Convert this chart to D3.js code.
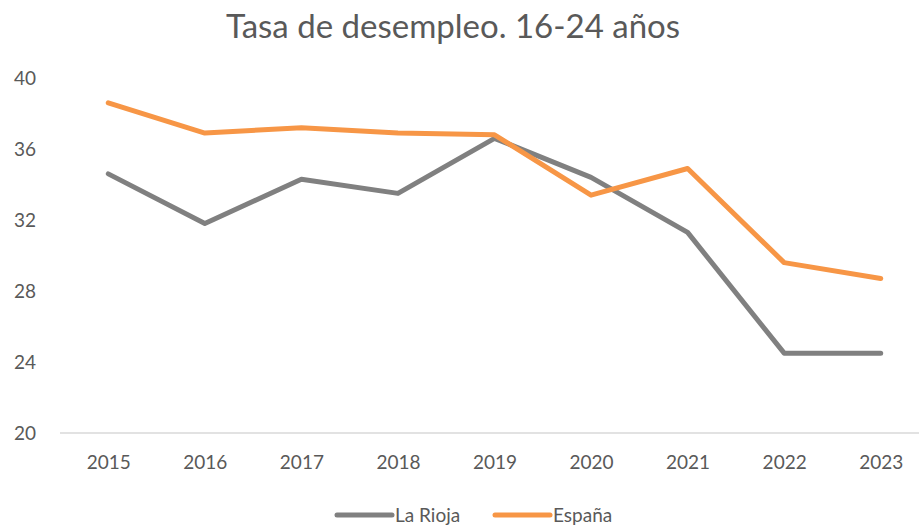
<!DOCTYPE html>
<html>
<head>
<meta charset="utf-8">
<script src="https://cdnjs.cloudflare.com/ajax/libs/d3/7.8.5/d3.min.js"></script>
<style>
  body { margin: 0; background: #fff; }
  text { font-family: Lato, "Open Sans", sans-serif; fill: #595959; }
</style>
</head>
<body>
<svg id="chart" width="919" height="530"></svg>
<script>
// chart data
const years = ["2015", "2016", "2017", "2018", "2019", "2020", "2021", "2022", "2023"];
const laRioja = [34.6, 31.8, 34.3, 33.5, 36.6, 34.4, 31.3, 24.5, 24.5];
const espana = [38.6, 36.9, 37.2, 36.9, 36.8, 33.4, 34.9, 29.6, 28.7];
const yTicks = [20, 24, 28, 32, 36, 40];
const seriesNames = ["La Rioja", "España"];

const colors = ["#808080", "#F79646"];

const svg = d3.select("#chart");

// plot area
const plotLeft = 60, plotRight = 929, plotTop = 78, plotBottom = 433;

let x = d3.scalePoint().domain(years).range([plotLeft, plotRight]).padding(0.5);
let y = d3.scaleLinear().domain([20, 40]).range([plotBottom, plotTop]);

// title
svg.append("text")
  .attr("x", 453)
  .attr("y", 38)
  .attr("text-anchor", "middle")
  .style("font-size", "33px")
  .text("Tasa de desempleo. 16-24 años");

// y axis labels (no line, no gridlines)
let yAxis = d3.axisLeft(y).tickValues(yTicks).tickSize(0).tickPadding(0);
let yG = svg.append("g")
  .attr("transform", "translate(14,0)")
  .call(yAxis);
yG.select(".domain").remove();
yG.selectAll("text")
  .attr("text-anchor", "start")
  .attr("x", 0)
  .style("font-size", "19px")
  .style("fill", "#595959")
  .style("font-family", "Lato, 'Open Sans', sans-serif");

// x axis
let xAxis = d3.axisBottom(x).tickSize(0).tickPadding(23);
let xG = svg.append("g")
  .attr("transform", "translate(0," + plotBottom + ")")
  .call(xAxis);
xG.select(".domain")
  .attr("d", "M" + plotLeft + ",0H919")
  .attr("stroke", "#d9d9d9")
  .attr("stroke-width", 1.5);
xG.selectAll("text")
  .style("font-size", "19px")
  .style("fill", "#595959")
  .style("font-family", "Lato, 'Open Sans', sans-serif");

// lines
const line = d3.line()
  .x((d, i) => x(years[i]))
  .y(d => y(d));

[laRioja, espana].forEach(function(vals, k) {
  svg.append("path")
    .datum(vals)
    .attr("fill", "none")
    .attr("stroke", colors[k])
    .attr("stroke-width", 5)
    .attr("stroke-linecap", "round")
    .attr("stroke-linejoin", "round")
    .attr("d", line);
});

// legend
const legendX = [337, 495];
seriesNames.forEach(function(name, k) {
  let g = svg.append("g").attr("transform", "translate(" + legendX[k] + ",515)");
  g.append("line")
    .attr("x1", 0).attr("x2", 55)
    .attr("y1", 0).attr("y2", 0)
    .attr("stroke", colors[k])
    .attr("stroke-width", 5)
    .attr("stroke-linecap", "round");
  g.append("text")
    .attr("x", 58)
    .attr("y", 7)
    .style("font-size", "19px")
    .text(name);
});
</script>
</body>
</html>
